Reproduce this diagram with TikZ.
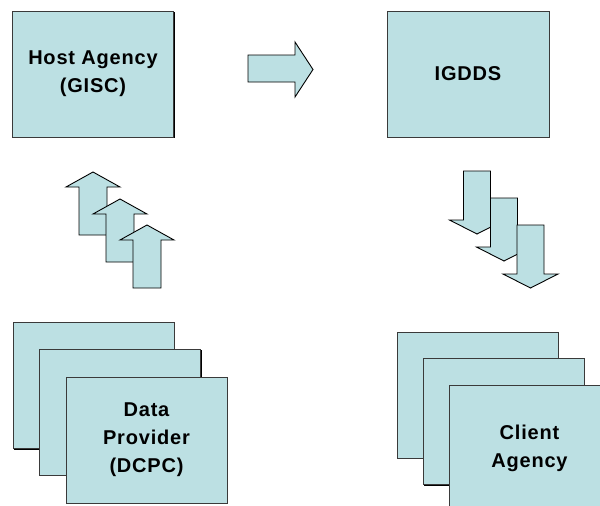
\documentclass[tikz,border=0pt]{standalone}
\usepackage{fontspec}
\newfontfamily\labfont{Liberation Sans}[LetterSpace=4]
\usetikzlibrary{shadows}
\definecolor{boxfill}{HTML}{BCE0E3}
\definecolor{boxline}{HTML}{3A3A3A}
\begin{document}
\begin{tikzpicture}[x=1pt,y=-1pt,
  box/.style={draw=boxline, line width=0.9pt, fill=boxfill,
    minimum width=161pt, minimum height=126pt, inner sep=0pt, outer sep=0pt,
    align=center, font=\labfont\bfseries\fontsize{20}{28}\selectfont,
    drop shadow={shadow xshift=1.3pt, shadow yshift=-1.3pt, fill=black, opacity=1}},
  blockarrow/.style={draw=black, line width=0.9pt, fill=boxfill, line join=miter},
  uparr/.pic={\draw[blockarrow] (0,0) -- (27,15) -- (14,15) -- (14,63) -- (-14,63) -- (-14,15) -- (-27,15) -- cycle;},
  downarr/.pic={\draw[blockarrow] (-13.5,0) -- (13.5,0) -- (13.5,49) -- (27.5,49) -- (0,63) -- (-27.5,49) -- (-13.5,49) -- cycle;}
]
\useasboundingbox (0,0) rectangle (600,506);
\clip (0,0) rectangle (600,506);
\fill[white] (0,0) rectangle (600,506);

% top boxes
\node[box] (host) at (93,74) {Host Agency\\(GISC)};
\node[box, minimum width=162pt] (igdds) at (468,74) {IGDDS};

% right arrow
\draw[blockarrow] (248,55) -- (295,55) -- (295,42) -- (313,69.5) -- (295,97) -- (295,82) -- (248,82) -- cycle;

% up arrows
\pic (up1) at (93,172) {uparr};
\pic (up2) at (120,199) {uparr};
\pic (up3) at (147,225) {uparr};

% down arrows
\pic (dn1) at (477,171) {downarr};
\pic (dn2) at (504,198) {downarr};
\pic (dn3) at (530.5,225) {downarr};

% data provider stack
\node[box] (dp1) at (93.5,385.5) {};
\node[box] (dp2) at (120,412) {};
\node[box] (dp3) at (146.5,440) {Data\\Provider\\(DCPC)};

% client agency stack
\node[box] (ca1) at (477.5,395) {};
\node[box] (ca2) at (503.5,421.5) {};
\node[box] (ca3) at (529.5,448) {Client\\Agency};
\end{tikzpicture}
\end{document}
